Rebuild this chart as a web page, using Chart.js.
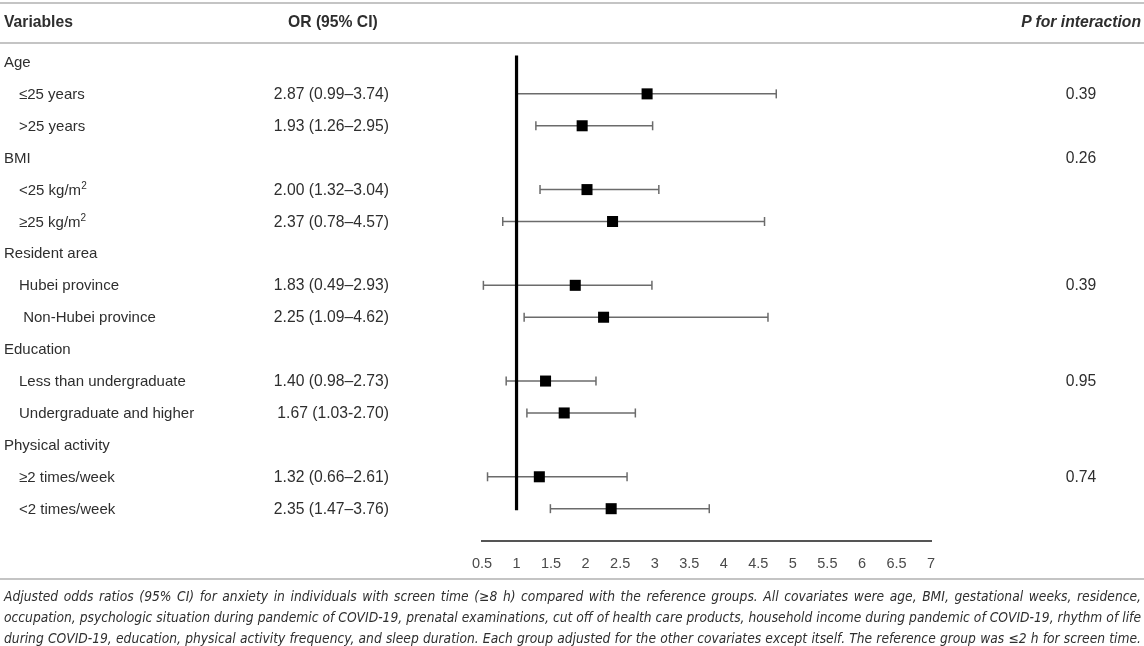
<!DOCTYPE html>
<html>
<head>
<meta charset="utf-8">
<script src="https://cdn.jsdelivr.net/npm/chart.js@4.4.1/dist/chart.umd.min.js"></script>
<style>
  html, body { margin: 0; padding: 0; background: #fff; }
  #page { position: relative; width: 1144px; height: 646px; overflow: hidden;
          font-family: "Liberation Sans", Arial, sans-serif; color: #2e2e2e; }
  #chart-wrap { position: absolute; left: 0; top: 0; width: 1144px; height: 588px; }
  .rule { position: absolute; left: 0; width: 1144px; height: 0; border-top: 2px solid #c4c4c4; }
  .cell { position: absolute; font-size: 15px; line-height: 20px; height: 20px; white-space: pre; }
  .num { font-size: 15.7px; }
  .head { font-weight: bold; font-size: 15.7px; }
  #caption { position: absolute; left: 4px; top: 586px; width: 1137px;
             font-family: "DejaVu Sans Condensed", "Liberation Sans", Arial, sans-serif;
             font-size: 13.7px; font-style: italic; line-height: 21px; }
  #caption div { text-align: justify; text-align-last: justify; white-space: nowrap; }
</style>
</head>
<body>
<div id="page">
  <div id="chart-wrap"><canvas id="forest"></canvas></div>
  <div class="rule" style="top:2px"></div>
  <div class="rule" style="top:42px"></div>
  <div class="rule" style="top:578px"></div>
  <div class="cell head" style="left:4px; top:12px">Variables</div>
  <div class="cell head" style="left:288px; top:12px">OR (95% CI)</div>
  <div class="cell head" style="right:3px; top:12px"><i>P for interaction</i></div>
  <div id="rows"></div>
  <div id="caption">
    <div>Adjusted odds ratios (95% CI) for anxiety in individuals with screen time (≥8 h) compared with the reference groups. All covariates were age, BMI, gestational weeks, residence,</div>
    <div>occupation, psychologic situation during pandemic of COVID-19, prenatal examinations, cut off of health care products, household income during pandemic of COVID-19, rhythm of life</div>
    <div>during COVID-19, education, physical activity frequency, and sleep duration. Each group adjusted for the other covariates except itself. The reference group was ≤2 h for screen time.</div>
  </div>
</div>
<script>
const rowLabels = ['Age', '≤25 years', '>25 years', 'BMI', '<25 kg/m²', '≥25 kg/m²',
  'Resident area', 'Hubei province', ' Non-Hubei province', 'Education',
  'Less than undergraduate', 'Undergraduate and higher', 'Physical activity',
  '≥2 times/week', '<2 times/week'];
const groupRow = [true, false, false, true, false, false, true, false, false, true,
  false, false, true, false, false];
const orLabels = ['', '2.87 (0.99–3.74)', '1.93 (1.26–2.95)', '', '2.00 (1.32–3.04)',
  '2.37 (0.78–4.57)', '', '1.83 (0.49–2.93)', '2.25 (1.09–4.62)', '',
  '1.40 (0.98–2.73)', '1.67 (1.03-2.70)', '', '1.32 (0.66–2.61)', '2.35 (1.47–3.76)'];
const pLabels = ['', '0.39', '', '0.26', '', '', '', '0.39', '', '', '0.95', '', '', '0.74', ''];

// point estimates and CI ends as drawn in the plot
const orValues = [null, 2.89, 1.95, null, 2.02, 2.39, null, 1.85, 2.26, null, 1.42, 1.69, null, 1.33, 2.37];
const ciLower  = [null, 1.00, 1.28, null, 1.34, 0.80, null, 0.52, 1.11, null, 0.85, 1.15, null, 0.58, 1.49];
const ciUpper  = [null, 4.76, 2.97, null, 3.06, 4.59, null, 2.96, 4.64, null, 2.15, 2.72, null, 2.60, 3.79];
const nullValue = 1;
const xTicks = [0.5, 1, 1.5, 2, 2.5, 3, 3.5, 4, 4.5, 5, 5.5, 6, 6.5, 7];

const ciColor = '#6b6b6b';

const datasets = [];

datasets.push({
  type: 'scatter',
  data: orValues.map((v, i) => v === null ? null : { x: v, y: i }).filter(Boolean),
  pointStyle: 'rect',
  pointRadius: 7.8,
  backgroundColor: '#000',
  borderWidth: 0,
  clip: false
});

datasets.push({
  type: 'line',
  data: [{ x: nullValue, y: -0.2 }, { x: nullValue, y: rowLabels.length - 0.95 }],
  borderColor: '#000',
  borderWidth: 3.2,
  pointRadius: 0,
  clip: false
});

orValues.forEach((v, i) => {
  if (v === null) return;
  datasets.push({
    type: 'line',
    data: [{ x: ciLower[i], y: i }, { x: ciUpper[i], y: i }],
    borderColor: ciColor,
    borderWidth: 1.5,
    pointStyle: 'line',
    rotation: 90,
    pointRadius: 4.5,
    pointBorderColor: ciColor,
    pointBorderWidth: 1.5,
    clip: false
  });
});

const placeRows = {
  id: 'placeRows',
  afterRender(chart) {
    const box = document.getElementById('rows');
    if (box.childElementCount) return;
    const y = chart.scales.y;
    rowLabels.forEach((label, i) => {
      const top = Math.round(y.getPixelForValue(i) - 10) + 'px';
      const a = document.createElement('div');
      a.className = 'cell';
      a.style.left = (groupRow[i] ? 4 : 19) + 'px';
      a.style.top = top;
      a.innerHTML = label.replace('m²', 'm<sup style="font-size:10px;line-height:0">2</sup>');
      box.appendChild(a);
      if (orLabels[i]) {
        const b = document.createElement('div');
        b.className = 'cell num';
        b.style.right = (1144 - 389) + 'px';
        b.style.top = top;
        b.textContent = orLabels[i];
        box.appendChild(b);
      }
      if (pLabels[i]) {
        const c = document.createElement('div');
        c.className = 'cell num';
        c.style.left = '1031px';
        c.style.width = '100px';
        c.style.textAlign = 'center';
        c.style.top = top;
        c.textContent = pLabels[i];
        box.appendChild(c);
      }
    });
  }
};

new Chart(document.getElementById('forest').getContext('2d'), {
  data: { datasets: datasets },
  options: {
    responsive: true,
    maintainAspectRatio: false,
    animation: false,
    layout: { padding: { left: 482, right: 213, top: 46, bottom: 0 } },
    plugins: { legend: { display: false }, tooltip: { enabled: false } },
    scales: {
      x: {
        type: 'linear',
        min: 0.5,
        max: 7,
        afterBuildTicks: scale => { scale.ticks = xTicks.map(v => ({ value: v })); },
        grid: { display: false, drawTicks: false },
        border: { color: '#555', width: 2 },
        ticks: {
          padding: 15,
          color: '#4a4a4a',
          callback: v => String(v),
          font: { family: '"Liberation Sans", Arial, sans-serif', size: 14.5 }
        }
      },
      y: {
        type: 'linear',
        min: -0.5,
        max: rowLabels.length,
        reverse: true,
        display: false
      }
    }
  },
  plugins: [placeRows]
});
</script>
</body>
</html>
